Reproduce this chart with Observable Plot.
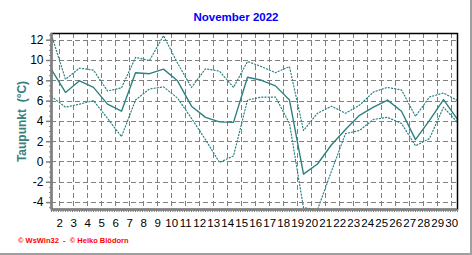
<!DOCTYPE html>
<html><head><meta charset="utf-8">
<script src="https://cdn.jsdelivr.net/npm/d3@7"></script>
<script src="https://cdn.jsdelivr.net/npm/@observablehq/plot@0.6"></script>
<style>
body{margin:0;background:#fff}
#wrap{position:relative;width:470px;height:253px;border-right:2px solid #a0a0a0;border-bottom:2px solid #a0a0a0;overflow:hidden;font-family:"Liberation Sans",Arial,sans-serif;background:#fff}
#chart{position:absolute;left:0;top:0}
#title{position:absolute;left:0;width:472px;top:11px;text-align:center;font:bold 11.5px "Liberation Sans",Arial,sans-serif;color:#0000ff}
#footer{position:absolute;left:18px;top:236px;font:bold 7.5px "Liberation Sans",Arial,sans-serif;color:#ff0000;white-space:pre}
</style></head><body>
<div id="wrap"><div id="chart"></div><div id="title">November 2022</div><div id="footer">© WsWin32  -  © Heiko Blödorn</div></div>
<script>
const days = [1,2,3,4,5,6,7,8,9,10,11,12,13,14,15,16,17,18,19,20,21,22,23,24,25,26,27,28,29,30];
const dewMean = [9.1,6.85,8.0,7.35,5.7,5.0,8.8,8.7,9.15,8.0,5.5,4.4,3.95,3.9,8.35,8.05,7.5,6.1,-1.2,-0.2,1.7,3.2,4.6,5.4,6.1,5.0,2.2,4.1,6.15,4.2];
const dewMax = [12.5,8.15,9.25,9.05,7.0,7.3,10.3,10.0,12.45,9.75,7.35,9.18,8.95,7.35,9.9,9.4,8.8,9.4,3.1,4.8,5.5,4.8,5.6,6.9,7.35,7.1,4.5,6.4,6.8,6.05];
const dewMin = [6.45,5.4,5.7,6.05,4.3,2.5,6.1,7.2,7.4,6.3,4.3,2.2,-0.05,0.6,6.1,6.4,6.4,3.8,-4.5,-4.7,-0.9,2.8,3.1,4.2,4.4,3.8,1.6,2.3,5.4,3.9];
const yTicks = [-4,-2,0,2,4,6,8,10,12];
const xTickLabels = [2,3,4,5,6,7,8,9,10,11,12,13,14,15,16,17,18,19,20,21,22,23,24,25,26,27,28,29,30];
const yLabel = "Taupunkt\u00a0 (°C)";

const rows = days.map((d,i)=>({day:d, mean:dewMean[i], max:dewMax[i], min:dewMin[i]}));
const yMin = -4.68, yMax = 12.66;
const labelShift = 0.42;
const yMinor = d3.range(-4.5, 12.6, 0.5);
const xMinor = d3.range(1, 30.001, 1/6);
const teal = "#2f8080";
const grid = "#808080";

const chart = Plot.plot({
  width: 470, height: 253,
  marginLeft: 51, marginRight: 13, marginTop: 33, marginBottom: 44,
  x: {domain: [1, 30]},
  y: {domain: [yMin, yMax]},
  style: {fontFamily: "'Liberation Sans', Arial, sans-serif", background: "transparent", color: "#000"},
  marks: [
    Plot.ruleY(yTicks, {stroke: grid, strokeDasharray: "5,3", shapeRendering: "crispEdges"}),
    Plot.ruleX(xTickLabels, {x: d => d - labelShift, stroke: grid, strokeDasharray: "5,3", shapeRendering: "crispEdges"}),
    Plot.line(rows, {x: "day", y: "max", stroke: teal, strokeWidth: 1.2, strokeDasharray: "1.2,2"}),
    Plot.line(rows, {x: "day", y: "min", stroke: teal, strokeWidth: 1.2, strokeDasharray: "1.2,2"}),
    Plot.line(rows, {x: "day", y: "mean", stroke: teal, strokeWidth: 1.4}),
    Plot.frame({stroke: "#000", strokeWidth: 1.5}),
    Plot.ruleX([1], {stroke: grid, strokeWidth: 2.5}),
    Plot.ruleY([yMin], {stroke: grid, strokeWidth: 2.5}),
    Plot.axisY(yTicks, {tickSize: 5, tickPadding: 3, fontSize: 12, stroke: grid, strokeWidth: 1.5, label: null, tickFormat: d => String(d)}),
    Plot.axisY(yMinor, {tickSize: 2, stroke: grid, text: null, label: null}),
    Plot.axisX(xMinor, {tickSize: 3, stroke: grid, text: null, label: null}),
    Plot.text(xTickLabels, {x: d => d - labelShift, y: yMin, dy: 14, text: d => String(d), fontSize: 11.5, fill: "#000"}),
    Plot.text([yLabel], {frameAnchor: "left", textAnchor: "middle", dx: -29, rotate: -90, text: d => d, fill: "#3a8080", fontWeight: "bold", fontSize: 12})
  ]
});
document.getElementById("chart").appendChild(chart);
</script>
</body></html>
